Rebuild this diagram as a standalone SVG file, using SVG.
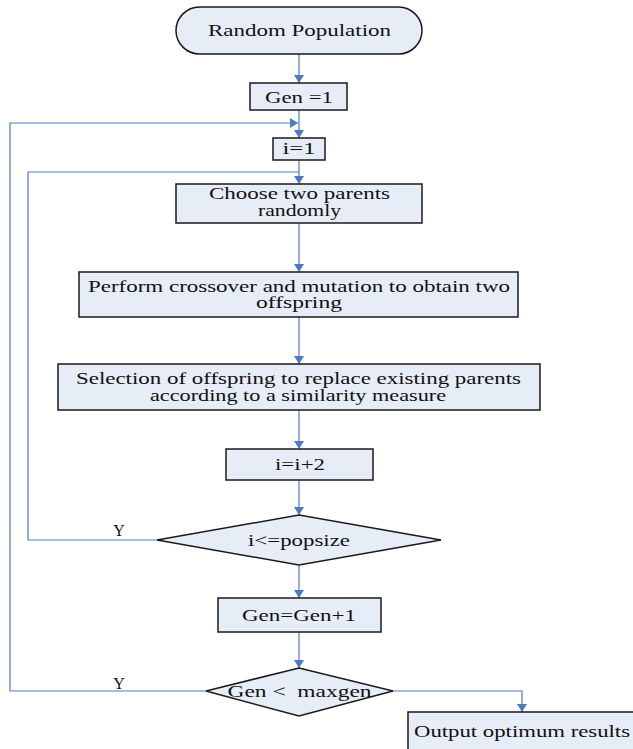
<svg xmlns="http://www.w3.org/2000/svg" width="633" height="749" viewBox="0 0 633 749">
<style>
.box{fill:#E7EDF7;stroke:#1a1a1a;stroke-width:1.5}
.t{font-family:"Liberation Serif","Times New Roman",serif;font-size:16px;fill:#111;text-anchor:middle}
.c{fill:none;stroke:#4A7CC2;stroke-width:1.2}
</style>
<defs>
<marker id="ah" viewBox="0 0 8 10" refX="8" refY="5" markerWidth="8" markerHeight="10" markerUnits="userSpaceOnUse" orient="auto">
<path d="M0,0 L8,5 L0,10 z" fill="#4A7CC2"/>
</marker>
</defs>
<rect width="633" height="749" fill="#fff"/>
<g id="connectors">
<path class="c" d="M299,54 V83" marker-end="url(#ah)"/>
<path class="c" d="M299,110 V138" marker-end="url(#ah)"/>
<path class="c" d="M206,691 H10 V123 H298" marker-end="url(#ah)"/>
<path class="c" d="M157,540 H28 V172 H299"/>
<path class="c" d="M299,160 V184" marker-end="url(#ah)"/>
<path class="c" d="M299,223 V272" marker-end="url(#ah)"/>
<path class="c" d="M299,317 V364" marker-end="url(#ah)"/>
<path class="c" d="M299,410 V449" marker-end="url(#ah)"/>
<path class="c" d="M299,480 V515" marker-end="url(#ah)"/>
<path class="c" d="M299,565 V598" marker-end="url(#ah)"/>
<path class="c" d="M299,632 V668" marker-end="url(#ah)"/>
<path class="c" d="M393,691 H522 V712" marker-end="url(#ah)"/>
<text class="t" x="119" y="536">Y</text>
<text class="t" x="119" y="689">Y</text>
</g>
<g id="start">
<rect class="box" x="176" y="7" width="246" height="47" rx="23.5"/>
<text class="t" x="299.5" y="36" textLength="183" lengthAdjust="spacingAndGlyphs">Random Population</text>
</g>
<g id="gen1">
<rect class="box" x="250" y="83" width="97" height="27"/>
<text class="t" x="299" y="103" textLength="68" lengthAdjust="spacingAndGlyphs">Gen =1</text>
</g>
<g id="i1">
<rect class="box" x="273" y="138" width="52" height="22"/>
<text class="t" x="299" y="154" textLength="33" lengthAdjust="spacingAndGlyphs">i=1</text>
</g>
<g id="choose">
<rect class="box" x="176" y="184" width="246" height="39"/>
<text class="t" x="299.5" y="199" textLength="181" lengthAdjust="spacingAndGlyphs">Choose two parents</text>
<text class="t" x="299.5" y="216" textLength="83" lengthAdjust="spacingAndGlyphs">randomly</text>
</g>
<g id="crossover">
<rect class="box" x="79" y="272" width="439" height="45"/>
<text class="t" x="299" y="292" textLength="422" lengthAdjust="spacingAndGlyphs">Perform crossover and mutation to obtain two</text>
<text class="t" x="299" y="308" textLength="86" lengthAdjust="spacingAndGlyphs">offspring</text>
</g>
<g id="selection">
<rect class="box" x="58" y="364" width="482" height="46"/>
<text class="t" x="298.5" y="384" textLength="445" lengthAdjust="spacingAndGlyphs">Selection of offspring to replace existing parents</text>
<text class="t" x="298" y="401" textLength="296" lengthAdjust="spacingAndGlyphs">according to a similarity measure</text>
</g>
<g id="inc">
<rect class="box" x="226" y="449" width="147" height="31"/>
<text class="t" x="300" y="470" textLength="50" lengthAdjust="spacingAndGlyphs">i=i+2</text>
</g>
<g id="dec1">
<polygon class="box" points="157,540 299,515 441,540 299,565"/>
<text class="t" x="299" y="546" textLength="102" lengthAdjust="spacingAndGlyphs">i&lt;=popsize</text>
</g>
<g id="geninc">
<rect class="box" x="218" y="598" width="163" height="34"/>
<text class="t" x="299" y="621" textLength="114" lengthAdjust="spacingAndGlyphs">Gen=Gen+1</text>
</g>
<g id="dec2">
<polygon class="box" points="206,691 299,668 393,691 299,716"/>
<text class="t" x="299.5" y="697" textLength="144" lengthAdjust="spacingAndGlyphs" xml:space="preserve" style="white-space:pre">Gen &lt;  maxgen</text>
</g>
<g id="output">
<rect class="box" x="408" y="712" width="240" height="50"/>
<text class="t" x="522" y="737" textLength="216" lengthAdjust="spacingAndGlyphs">Output optimum results</text>
</g>
</svg>
